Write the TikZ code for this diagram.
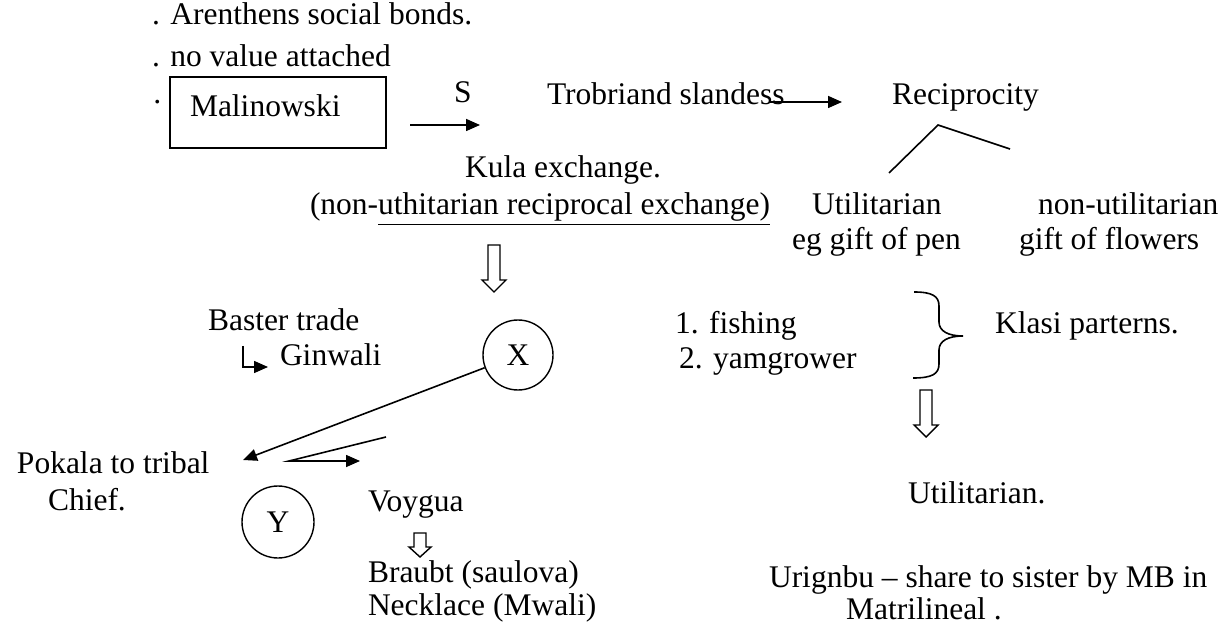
\documentclass[tikz,border=0pt]{standalone}
\usepackage{fontspec}
\setmainfont{Liberation Serif}
\usetikzlibrary{arrows.meta}
\begin{document}
\begin{tikzpicture}[x=0.5pt,y=-0.5pt,
  txt/.style={anchor=base west,inner sep=0pt,outer sep=0pt,font=\fontsize{15.75pt}{18pt}\selectfont},
  ln/.style={line width=0.8pt},
  arr/.style={line width=0.8pt,-{Triangle[length=7pt,width=6pt]}},
  hollow/.style={line width=0.7pt,line join=miter},
  circ/.style={draw,circle,line width=0.7pt,minimum size=#1,inner sep=0pt,font=\fontsize{15.75pt}{18pt}\selectfont}]
\useasboundingbox (0,0) rectangle (1230,625);
% top bullet lines
\node[txt] (l1) at (152,25) {. Arenthens social bonds.};
\node[txt] (l2) at (152,67) {. no value attached};
\node[txt] (d3) at (152,113) {·};
% Malinowski box
\node[draw,line width=0.8pt,minimum width=108pt,minimum height=35.5pt,inner sep=0pt] (box) at (278,112.5) {};
\node[txt] (mal) at (190,117) {Malinowski};
\coordinate (a1s) at (410,125);
\coordinate (a1e) at (480,125);
\draw[arr] (a1s) -- (a1e);
\node[txt] (s) at (454,103) {S};
\node[txt] (trob) at (547,105) {Trobriand slandess};
\coordinate (a2s) at (770,102);
\coordinate (a2e) at (842,102);
\draw[arr] (a2s) -- (a2e);
\node[txt] (recip) at (892,105) {Reciprocity};
% branches
\coordinate (pk) at (938,125);
\coordinate (bl) at (889,173);
\coordinate (br) at (1010,149);
\draw[ln] (bl) -- (pk) -- (br);
\node[txt] (kula) at (465,178) {Kula exchange.};
\node[txt] (nonu) at (310,215) {(non-\underline{uthitarian reciprocal exchange)}};
\node[txt] (util) at (812,215) {Utilitarian};
\node[txt] (nutil) at (1038,215) {non-utilitarian};
\node[txt] (pen) at (792,250) {eg gift of pen};
\node[txt] (flow) at (1019,250) {gift of flowers};
% hollow arrow 1
\draw[hollow] (488,245) -- (500,245) -- (500,280) -- (506,280) -- (494,292) -- (482,280) -- (488,280) -- cycle;
% Baster trade
\node[txt] (bas) at (208,330) {Baster trade};
\node[txt] (gin) at (280,365) {Ginwali};
\coordinate (e1) at (243,346);
\coordinate (e2) at (243,367);
\coordinate (e3) at (268,367);
\draw[line width=0.8pt,-{Triangle[length=7pt,width=6pt]}] (e1) -- (e2) -- (e3);
% X circle
\node[circ=35pt] (X) at (518,355) {X};
\node[txt] (pok) at (17,473) {Pokala to tribal};
\node[txt] (chief) at (48,510) {Chief.};
\coordinate (pt) at (243,460);
\draw[arr] (X) -- (pt);
\coordinate (v1) at (386,437);
\coordinate (v2) at (289,461);
\coordinate (v3) at (360,461);
\draw[arr] (v1) -- (v2) -- (v3);
\node[circ=36pt] (Y) at (278,522) {Y};
\node[txt] (voy) at (368,511) {Voygua};
\draw[hollow] (414,533) -- (426,533) -- (426,547) -- (431,547) -- (420,557) -- (409,547) -- (414,547) -- cycle;
\node[txt] (brau) at (368,582) {Braubt (saulova)};
\node[txt] (neck) at (368,615) {Necklace (Mwali)};
% right lower part
\node[txt] (fish) at (675,334) {1. fishing};
\node[txt] (yam) at (679,368) {2. yamgrower};
\draw[line width=0.8pt] (914,292) .. controls (932,292) and (939,296) .. (939,306) -- (939,322)
  .. controls (939,331) and (948,336) .. (963,336) .. controls (948,336) and (939,341) .. (939,350)
  -- (939,364) .. controls (939,374) and (932,378) .. (913,378);
\node[txt] (klasi) at (995,334) {Klasi parterns.};
\draw[hollow] (920,390) -- (932,390) -- (932,425) -- (938,425) -- (926,437) -- (914,425) -- (920,425) -- cycle;
\node[txt] (util2) at (908,503) {Utilitarian.};
\node[txt] (uri) at (769,587) {Urignbu – share to sister by MB in};
\node[txt] (matri) at (846,619) {Matrilineal .};
\end{tikzpicture}
\end{document}
